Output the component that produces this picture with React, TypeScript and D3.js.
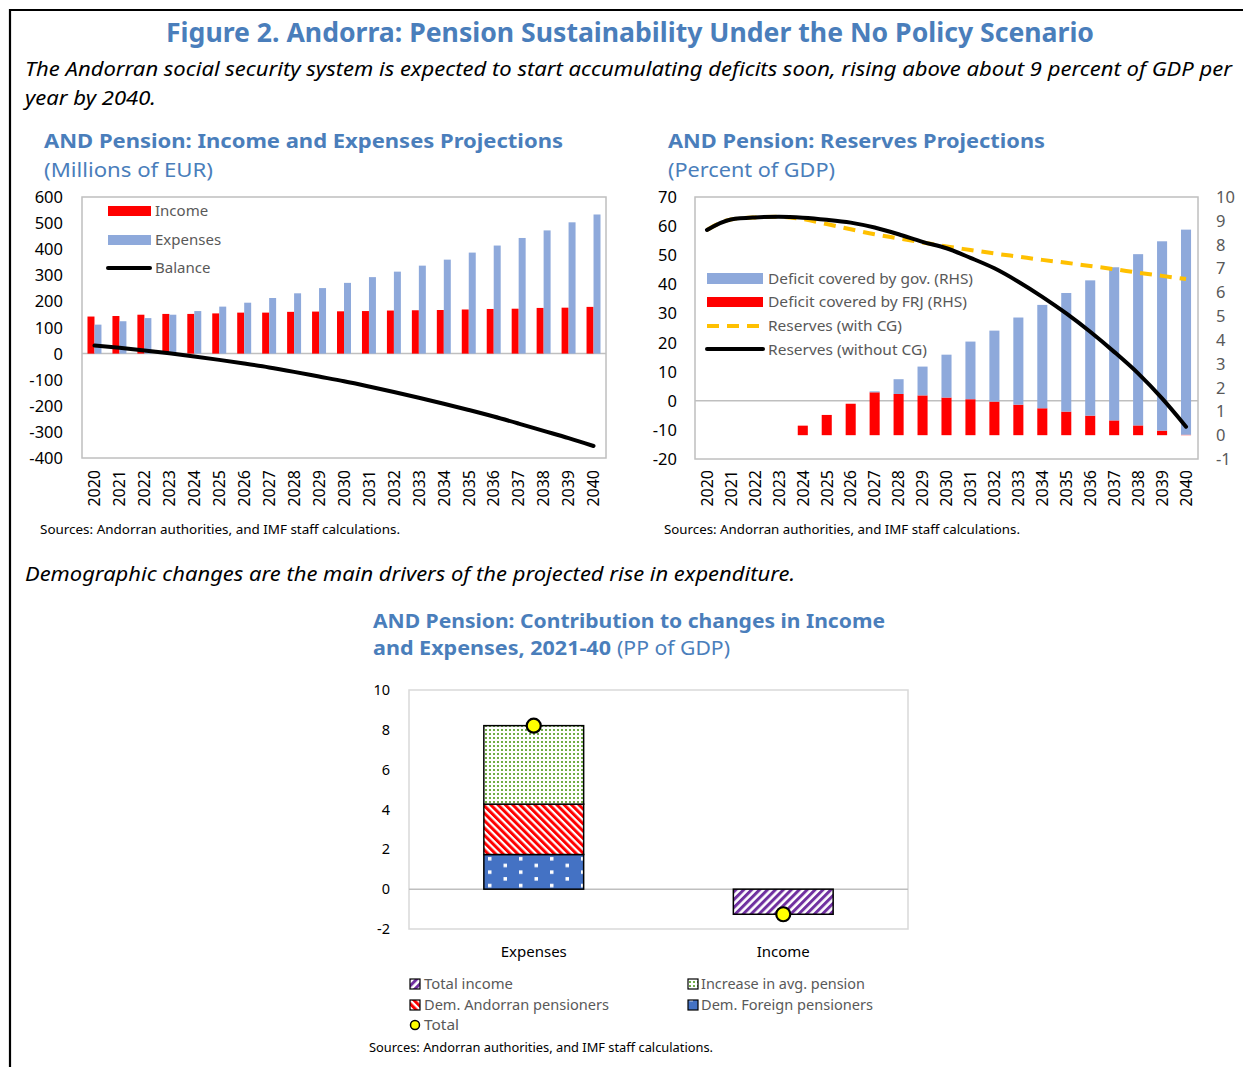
import React from 'react';
import * as d3 from 'd3';

// ---------- Data ----------
const years = ['2020','2021','2022','2023','2024','2025','2026','2027','2028','2029','2030','2031','2032','2033','2034','2035','2036','2037','2038','2039','2040'];

// Left chart (Millions of EUR)
const income = [142,144,149,152,152,154,157,157,160,161,162,163,165,166,167,169,171,172,175,176,179];
const expenses = [111,124,136,149,163,180,195,213,231,251,271,293,314,337,360,387,414,443,472,503,533];
const balance = [31,22,12,1,-11,-24,-38,-53,-70,-88,-106,-126,-147,-169,-192,-216,-241,-268,-296,-324,-354];
const leftTicks = [600,500,400,300,200,100,0,-100,-200,-300,-400];

// Right chart (Percent of GDP)
const deficitFRJ = [0,0,0,0,0.40,0.85,1.32,1.80,1.73,1.67,1.58,1.51,1.41,1.28,1.13,0.99,0.82,0.62,0.41,0.19,0.02];
const deficitGov = [0,0,0,0,0,0,0,0.04,0.62,1.21,1.80,2.42,2.98,3.66,4.34,4.98,5.68,6.43,7.19,7.95,8.61];
const reservesCG = [58.7,62.3,63.0,63.2,62.4,60.7,58.9,57.2,55.8,54.4,53.0,51.8,50.6,49.5,48.4,47.4,46.3,45.2,44.0,42.9,41.8];
const reservesNoCG = [58.7,62.3,63.0,63.2,62.9,62.2,61.2,59.5,57.2,54.6,52.4,49.1,45.5,40.9,35.7,30.0,23.7,16.8,9.4,0.8,-8.9];
const rightLTicks = [70,60,50,40,30,20,10,0,-10,-20];
const rightRTicks = [10,9,8,7,6,5,4,3,2,1,0,-1];

// Bottom chart (PP of GDP)
const categories = ['Expenses','Income'];
const totalIncome = [0,-1.26];
const demForeign = [1.74,0];
const demAndorran = [2.53,0];
const avgPension = [3.94,0];
const totalChange = [8.21,-1.26];
const bottomTicks = [10,8,6,4,2,0,-2];

// ---------- Styles ----------
const FONT = "'Noto Sans', 'Open Sans', sans-serif";
const BLUE_T = '#4A7EBB';
const GRAY_T = '#595959';
const RED = '#FF0000';
const LBLUE = '#8EA9DB';
const YELLOW = '#FFC000';

type TP = {
  x: number; y: number; s: number; children: React.ReactNode; w?: number;
  fill?: string; bold?: boolean; italic?: boolean; anchor?: string; transform?: string; dy?: string;
};
function T({ x, y, s, children, w, fill = '#000', bold, italic, anchor = 'start', transform, dy }: TP) {
  return (
    <text x={x} y={y} dy={dy} fontSize={s} fontFamily={FONT} fill={fill}
      fontWeight={bold ? 'bold' : 'normal'} fontStyle={italic ? 'italic' : 'normal'}
      textAnchor={anchor as any} transform={transform}
      textLength={w} lengthAdjust={w ? 'spacingAndGlyphs' : undefined}>
      {children}
    </text>
  );
}

function LeftChart() {
  const L = 82, R = 606, TOP = 197, BOT = 458;
  const x0 = d3.scaleBand<string>().domain(years).range([L, R]).paddingInner(0.44).paddingOuter(0.22);
  const x1 = d3.scaleBand<string>().domain(['income', 'expenses']).range([0, x0.bandwidth()]);
  const y = d3.scaleLinear().domain([-400, 600]).range([BOT, TOP]);
  const cx = (yr: string) => (x0(yr) as number) + x0.bandwidth() / 2;
  const line = d3.line<number>().x((_, i) => cx(years[i])).y(d => y(d)).curve(d3.curveMonotoneX);
  return (
    <g>
      <rect x={L} y={TOP} width={R - L} height={BOT - TOP} fill="none" stroke="#BFBFBF" strokeWidth={1.5} />
      <line x1={L} x2={R} y1={y(0)} y2={y(0)} stroke="#BFBFBF" strokeWidth={1.5} />
      {years.map((yr, i) => (
        <g key={yr}>
          <rect x={(x0(yr) as number) + (x1('income') as number)} width={x1.bandwidth()} y={y(income[i])} height={y(0) - y(income[i])} fill={RED} />
          <rect x={(x0(yr) as number) + (x1('expenses') as number)} width={x1.bandwidth()} y={y(expenses[i])} height={y(0) - y(expenses[i])} fill={LBLUE} />
        </g>
      ))}
      <path d={line(balance) || ''} fill="none" stroke="#000" strokeWidth={4} strokeLinecap="round" />
      {leftTicks.map(t => (
        <T key={t} x={63} y={y(t) + 6} s={16.5} anchor="end">{t}</T>
      ))}
      {years.map(yr => (
        <T key={yr} x={0} y={0} s={16} anchor="end" dy="0.36em" transform={`translate(${cx(yr)},470) rotate(-90)`}>{yr}</T>
      ))}
      {/* legend */}
      <rect x={108} y={206} width={43} height={10} fill={RED} />
      <T x={155} y={216} s={15} fill={GRAY_T}>Income</T>
      <rect x={108} y={235} width={43} height={10} fill={LBLUE} />
      <T x={155} y={245} s={15} fill={GRAY_T}>Expenses</T>
      <line x1={108} x2={150} y1={268} y2={268} stroke="#000" strokeWidth={4} strokeLinecap="round" />
      <T x={155} y={273} s={15} fill={GRAY_T}>Balance</T>
    </g>
  );
}

function RightChart() {
  const L = 695, R = 1198, TOP = 197, BOT = 459;
  const x = d3.scaleBand<string>().domain(years).range([L, R]).paddingInner(0.58).paddingOuter(0.29);
  const yL = d3.scaleLinear().domain([-20, 70]).range([BOT, TOP]);
  const yR = d3.scaleLinear().domain([-1, 10]).range([BOT, TOP]);
  const cx = (yr: string) => (x(yr) as number) + x.bandwidth() / 2;
  const rows = years.map((yr, i) => ({ yr, frj: deficitFRJ[i], gov: deficitGov[i] }));
  const stack = d3.stack<any>().keys(['frj', 'gov'])(rows);
  const colors: Record<string, string> = { frj: RED, gov: LBLUE };
  const line = d3.line<number>().x((_, i) => cx(years[i])).y(d => yL(d)).curve(d3.curveMonotoneX);
  return (
    <g>
      <rect x={L} y={TOP} width={R - L} height={BOT - TOP} fill="none" stroke="#BFBFBF" strokeWidth={1.5} />
      <line x1={L} x2={R} y1={yL(0)} y2={yL(0)} stroke="#BFBFBF" strokeWidth={1.5} />
      {stack.map(s => (
        <g key={s.key}>
          {s.map((d, i) => (d[1] - d[0] > 0 ?
            <rect key={i} x={x(years[i]) as number} width={x.bandwidth()} y={yR(d[1])} height={yR(d[0]) - yR(d[1])} fill={colors[s.key]} /> : null))}
        </g>
      ))}
      <path d={line(reservesCG) || ''} fill="none" stroke={YELLOW} strokeWidth={4} strokeDasharray="12 8" />
      <path d={line(reservesNoCG) || ''} fill="none" stroke="#000" strokeWidth={4} strokeLinecap="round" />
      {rightLTicks.map(t => (
        <T key={t} x={677} y={yL(t) + 6} s={16.5} anchor="end">{t}</T>
      ))}
      {rightRTicks.map(t => (
        <T key={t} x={1216} y={yR(t) + 6} s={16.5} fill={GRAY_T}>{t}</T>
      ))}
      {years.map(yr => (
        <T key={yr} x={0} y={0} s={16} anchor="end" dy="0.36em" transform={`translate(${cx(yr)},470) rotate(-90)`}>{yr}</T>
      ))}
      {/* legend */}
      <rect x={707} y={273} width={56} height={11} fill={LBLUE} />
      <T x={768} y={284} s={14.5} fill={GRAY_T} w={205}>Deficit covered by gov. (RHS)</T>
      <rect x={707} y={297} width={56} height={10} fill={RED} />
      <T x={768} y={307} s={14.5} fill={GRAY_T} w={199}>Deficit covered by FRJ (RHS)</T>
      <line x1={707} x2={763} y1={326} y2={326} stroke={YELLOW} strokeWidth={4} strokeDasharray="12 8" />
      <T x={768} y={331} s={14.5} fill={GRAY_T} w={134}>Reserves (with CG)</T>
      <line x1={707} x2={763} y1={349} y2={349} stroke="#000" strokeWidth={4} strokeLinecap="round" />
      <T x={768} y={355} s={14.5} fill={GRAY_T} w={159}>Reserves (without CG)</T>
    </g>
  );
}

function BottomChart() {
  const L = 409, R = 908, TOP = 690, BOT = 929;
  const x = d3.scaleBand<string>().domain(categories).range([L, R]).paddingInner(0.6).paddingOuter(0.3);
  const y = d3.scaleLinear().domain([-2, 10]).range([BOT, TOP]);
  const rows = categories.map((c, i) => ({ c, totalIncome: totalIncome[i], demForeign: demForeign[i], demAndorran: demAndorran[i], avgPension: avgPension[i] }));
  const keys = ['totalIncome', 'demForeign', 'demAndorran', 'avgPension'];
  const stack = d3.stack<any>().keys(keys).offset(d3.stackOffsetDiverging)(rows);
  const fills: Record<string, string> = { totalIncome: 'url(#pPurple)', demForeign: 'url(#pBlue)', demAndorran: 'url(#pRed)', avgPension: 'url(#pGreen)' };
  const cx = (c: string) => (x(c) as number) + x.bandwidth() / 2;
  return (
    <g>
      <rect x={L} y={TOP} width={R - L} height={BOT - TOP} fill="none" stroke="#D9D9D9" strokeWidth={1.5} />
      <line x1={L} x2={R} y1={y(0)} y2={y(0)} stroke="#BFBFBF" strokeWidth={1.5} />
      {stack.map(s => (
        <g key={s.key}>
          {s.map((d, i) => (Math.abs(d[1] - d[0]) > 0 ?
            <rect key={i} x={x(categories[i]) as number} width={x.bandwidth()} y={y(Math.max(d[0], d[1]))}
              height={Math.abs(y(d[0]) - y(d[1]))} fill={fills[s.key]} stroke="#000" strokeWidth={1.5} /> : null))}
        </g>
      ))}
      {categories.map((c, i) => (
        <circle key={c} cx={cx(c)} cy={y(totalChange[i])} r={7} fill="#FFFF00" stroke="#000" strokeWidth={2.2} />
      ))}
      {bottomTicks.map(t => (
        <T key={t} x={390} y={y(t) + 5} s={14.5} anchor="end">{t}</T>
      ))}
      {categories.map(c => (
        <T key={c} x={cx(c)} y={957} s={15} anchor="middle">{c}</T>
      ))}
      {/* legend */}
      <rect x={410} y={979} width={10} height={10} fill="url(#pPurple)" stroke="#000" strokeWidth={1.2} />
      <T x={424} y={989} s={14} fill={GRAY_T} w={89}>Total income</T>
      <rect x={688} y={979} width={10} height={10} fill="url(#pGreen)" stroke="#000" strokeWidth={1.2} />
      <T x={701} y={989} s={14} fill={GRAY_T} w={164}>Increase in avg. pension</T>
      <rect x={410} y={1000} width={10} height={10} fill="url(#pRed)" stroke="#000" strokeWidth={1.2} />
      <T x={424} y={1010} s={14} fill={GRAY_T} w={185}>Dem. Andorran pensioners</T>
      <rect x={688} y={1000} width={10} height={10} fill="url(#pBlue)" stroke="#000" strokeWidth={1.2} />
      <T x={701} y={1010} s={14} fill={GRAY_T} w={172}>Dem. Foreign pensioners</T>
      <circle cx={415} cy={1025} r={4.5} fill="#FFFF00" stroke="#000" strokeWidth={1.5} />
      <T x={424} y={1030} s={14} fill={GRAY_T} w={35}>Total</T>
    </g>
  );
}

export default function App() {
  return (
    <svg width={1243} height={1067} style={{ position: 'absolute', left: 0, top: 0, background: '#fff' }}>
      <defs>
        <pattern id="pBlue" patternUnits="userSpaceOnUse" x={483} y={855} width={31} height={13.4}>
          <rect width={31} height={13.4} fill="#4472C4" />
          <rect x={5} y={2} width={3.5} height={3.5} fill="#fff" />
          <rect x={20.5} y={8.7} width={3.5} height={3.5} fill="#fff" />
        </pattern>
        <pattern id="pRed" patternUnits="userSpaceOnUse" width={5.2} height={5.2} patternTransform="rotate(-45)">
          <rect width={5.2} height={5.2} fill="#fff" />
          <rect width={3} height={5.2} fill={RED} />
        </pattern>
        <pattern id="pPurple" patternUnits="userSpaceOnUse" width={5.6} height={5.6} patternTransform="rotate(45)">
          <rect width={5.6} height={5.6} fill="#fff" />
          <rect width={3} height={5.6} fill="#7030A0" />
        </pattern>
        <pattern id="pGreen" patternUnits="userSpaceOnUse" width={4} height={4}>
          <rect width={4} height={4} fill="#fff" />
          <rect x={1} y={1} width={2} height={2} fill="#70AD47" />
        </pattern>
      </defs>
      <rect width={1243} height={1067} fill="#fff" />
      <path d="M10,1067 L10,10 L1243,10" fill="none" stroke="#000" strokeWidth={2.2} />

      <T x={630} y={42} s={26} bold fill={BLUE_T} anchor="middle" w={928}>Figure 2. Andorra: Pension Sustainability Under the No Policy Scenario</T>
      <T x={25} y={76} s={20} italic w={1207}>The Andorran social security system is expected to start accumulating deficits soon, rising above about 9 percent of GDP per</T>
      <T x={25} y={105} s={20} italic w={131}>year by 2040.</T>

      <T x={44} y={148} s={20} bold fill={BLUE_T} w={519}>AND Pension: Income and Expenses Projections</T>
      <T x={44} y={177} s={20} fill={BLUE_T} w={169}>(Millions of EUR)</T>
      <T x={668} y={148} s={20} bold fill={BLUE_T} w={377}>AND Pension: Reserves Projections</T>
      <T x={668} y={177} s={20} fill={BLUE_T} w={167}>(Percent of GDP)</T>

      <LeftChart />
      <RightChart />

      <T x={40} y={534} s={12.5} w={360}>Sources: Andorran authorities, and IMF staff calculations.</T>
      <T x={664} y={534} s={12.5} w={356}>Sources: Andorran authorities, and IMF staff calculations.</T>

      <T x={25} y={581} s={20} italic w={770}>Demographic changes are the main drivers of the projected rise in expenditure.</T>

      <T x={373} y={628} s={19.5} bold fill={BLUE_T} w={512}>AND Pension: Contribution to changes in Income</T>
      <T x={373} y={655} s={19.5} bold fill={BLUE_T} w={238}>and Expenses, 2021-40</T>
      <T x={617} y={655} s={19.5} fill={BLUE_T} w={113}>(PP of GDP)</T>

      <BottomChart />

      <T x={369} y={1052} s={12} w={344}>Sources: Andorran authorities, and IMF staff calculations.</T>
    </svg>
  );
}
